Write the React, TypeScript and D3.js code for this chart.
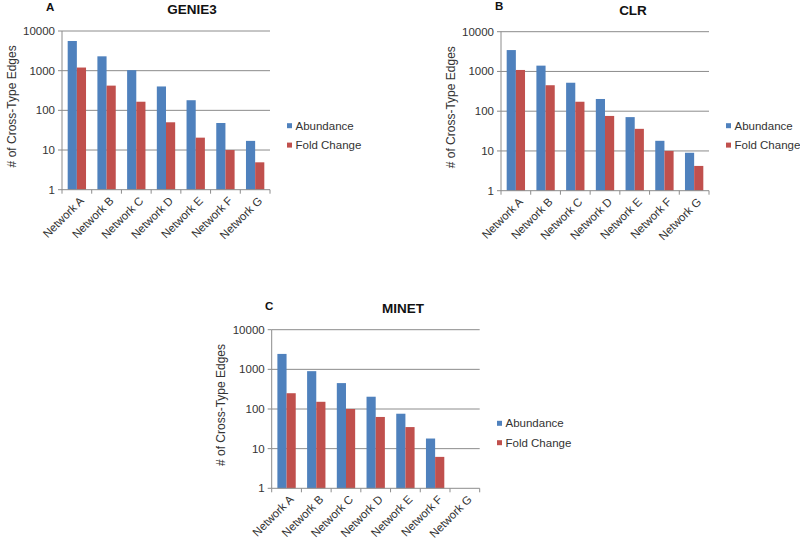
import React from "react";
import * as d3 from "d3";

const categories = ["Network A", "Network B", "Network C", "Network D", "Network E", "Network F", "Network G"];
const seriesNames = ["Abundance", "Fold Change"];
const seriesColors = ["#4F81BD", "#C0504D"];
const yTicks = [1, 10, 100, 1000, 10000];

const genie3Abundance = [5600, 2300, 1030, 400, 180, 48, 17];
const genie3FoldChange = [1200, 420, 165, 50, 20.5, 10, 4.9];
const clrAbundance = [3450, 1400, 520, 203, 71, 18, 9];
const clrFoldChange = [1090, 450, 173, 76, 36, 10, 4.2];
const minetAbundance: (number | null)[] = [2450, 900, 450, 204, 76, 18, null];
const minetFoldChange: (number | null)[] = [250, 152, 100, 63, 35, 6.2, null];

type PanelProps = {
  letter: string;
  title: string;
  values: (number | null)[][];
  left: number;
  top: number;
  bottom: number;
  width: number;
  titleX: number;
  titleY: number;
  letterX: number;
  letterY: number;
  legendX: number;
  legendY: number;
  ylabelX: number;
};

const FONT = "'Liberation Sans', Arial, sans-serif";

function Panel(p: PanelProps) {
  const x0 = d3.scaleBand<string>().domain(categories).range([p.left, p.left + p.width]).padding(0);
  const x1 = d3.scaleBand<string>().domain(seriesNames).range([0, x0.bandwidth()]).paddingInner(0).paddingOuter(0.62);
  const y = d3.scaleLog().domain([1, 10000]).range([p.bottom, p.top]);
  const right = p.left + p.width;
  const boundaries = categories.map((c) => x0(c) as number).concat([right]);
  return (
    <g>
      {yTicks.slice(1).map((t) => (
        <line key={"g" + t} x1={p.left} x2={right} y1={y(t)} y2={y(t)} stroke="#8c8c8c" strokeWidth={1} />
      ))}
      {p.values.map((vals, si) =>
        vals.map((v, ci) =>
          v == null ? null : (
            <rect
              key={si + "-" + ci}
              x={(x0(categories[ci]) as number) + (x1(seriesNames[si]) as number)}
              y={y(v)}
              width={x1.bandwidth()}
              height={p.bottom - y(v)}
              fill={seriesColors[si]}
            />
          )
        )
      )}
      <line x1={p.left} x2={p.left} y1={p.top} y2={p.bottom} stroke="#8c8c8c" />
      <line x1={p.left} x2={right} y1={p.bottom} y2={p.bottom} stroke="#8c8c8c" />
      {yTicks.map((t) => (
        <g key={"t" + t}>
          <line x1={p.left - 4} x2={p.left} y1={y(t)} y2={y(t)} stroke="#8c8c8c" />
          <text x={p.left - 7} y={y(t)} dy="0.35em" textAnchor="end" fontSize={11.5} fill="#333" fontFamily={FONT}>
            {String(t)}
          </text>
        </g>
      ))}
      {boundaries.map((bx, i) => (
        <line key={"xt" + i} x1={bx} x2={bx} y1={p.bottom} y2={p.bottom + 4} stroke="#8c8c8c" />
      ))}
      {categories.map((c) => {
        const cx = (x0(c) as number) + x0.bandwidth() / 2;
        const ty = p.bottom + 9;
        return (
          <text
            key={c}
            transform={`translate(${cx + 5},${ty}) rotate(-45)`}
            textAnchor="end"
            dy="0.35em"
            fontSize={11.5}
            fill="#333"
            fontFamily={FONT}
          >
            {c}
          </text>
        );
      })}
      <text
        transform={`translate(${p.ylabelX},${(p.top + p.bottom) / 2 - 4}) rotate(-90)`}
        textAnchor="middle"
        fontSize={12}
        fill="#333"
        fontFamily={FONT}
      >
        # of Cross-Type Edges
      </text>
      <text x={p.titleX} y={p.titleY} textAnchor="middle" fontSize={13.5} fontWeight="bold" fill="#111" fontFamily={FONT}>
        {p.title}
      </text>
      <text x={p.letterX} y={p.letterY} fontSize={11.5} fontWeight="bold" fill="#111" fontFamily={FONT}>
        {p.letter}
      </text>
      {seriesNames.map((s, i) => (
        <g key={s}>
          <rect x={p.legendX} y={p.legendY + i * 19.4 - 2.5} width={5} height={5} fill={seriesColors[i]} />
          <text x={p.legendX + 8.5} y={p.legendY + i * 19.4} dy="0.35em" fontSize={11.5} fill="#333" fontFamily={FONT}>
            {s}
          </text>
        </g>
      ))}
    </g>
  );
}

export default function App() {
  return (
    <svg
      width={800}
      height={541}
      style={{ position: "absolute", left: 0, top: 0, background: "#fff" }}
    >
      <rect width={800} height={541} fill="#fff" />
      <Panel
        letter="A"
        title="GENIE3"
        values={[genie3Abundance, genie3FoldChange]}
        left={62}
        top={31}
        bottom={189.7}
        width={208}
        titleX={192}
        titleY={14}
        letterX={46}
        letterY={11}
        legendX={287}
        legendY={125.7}
        ylabelX={16}
      />
      <Panel
        letter="B"
        title="CLR"
        values={[clrAbundance, clrFoldChange]}
        left={501}
        top={31.7}
        bottom={190.7}
        width={208}
        titleX={633}
        titleY={15}
        letterX={495}
        letterY={10}
        legendX={726}
        legendY={125.7}
        ylabelX={455}
      />
      <Panel
        letter="C"
        title="MINET"
        values={[minetAbundance, minetFoldChange]}
        left={271.7}
        top={329.7}
        bottom={488.3}
        width={208}
        titleX={403}
        titleY={313}
        letterX={265}
        letterY={310}
        legendX={497}
        legendY={423.3}
        ylabelX={225}
      />
    </svg>
  );
}
